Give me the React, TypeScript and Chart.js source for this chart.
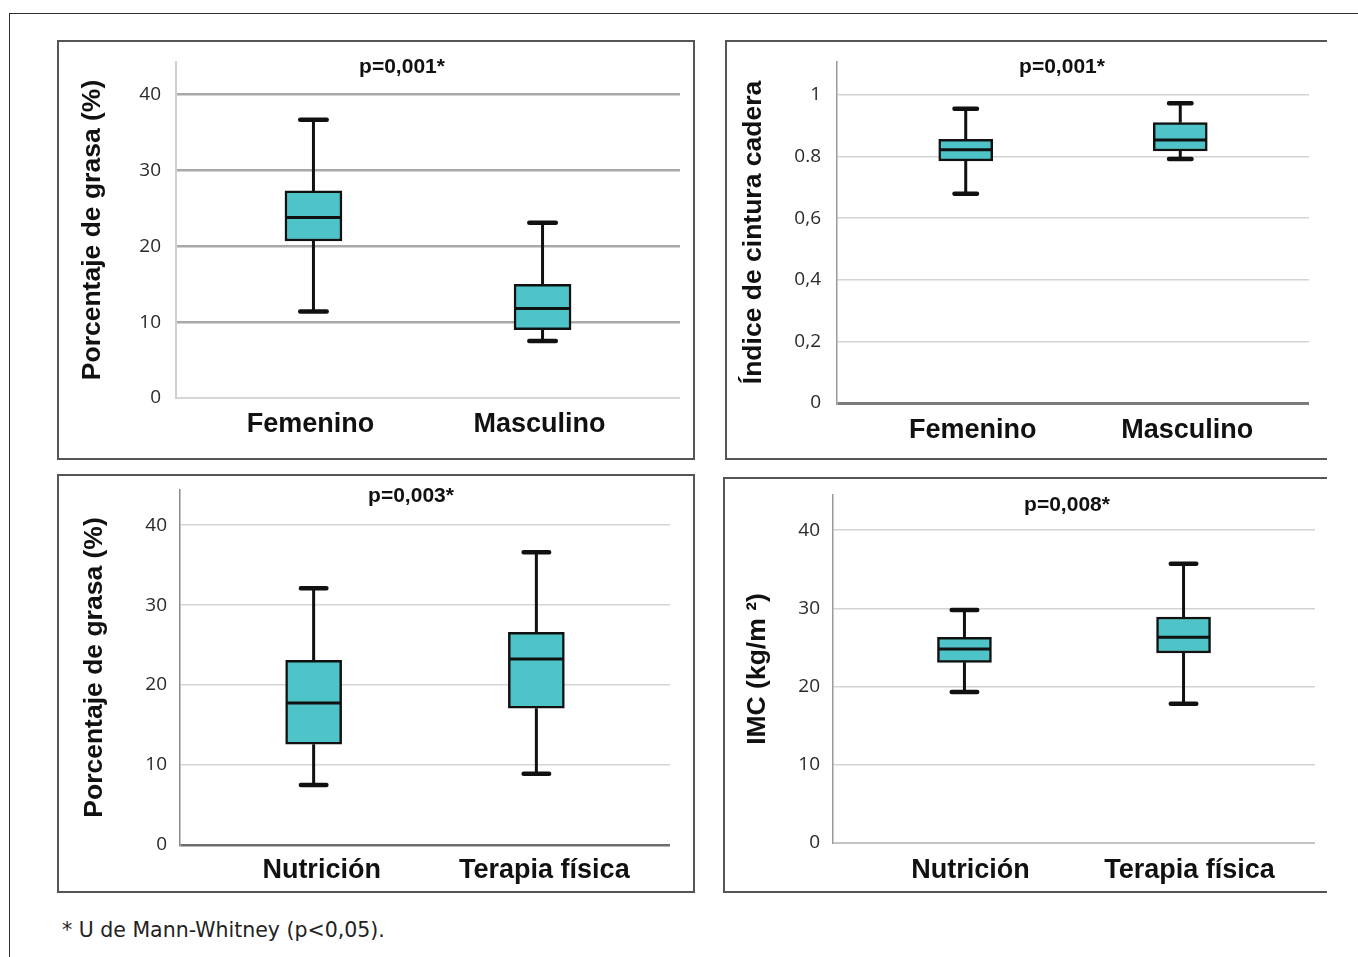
import React, { useEffect, useRef } from "react";
import { Chart, registerables } from "chart.js";

Chart.register(...registerables);

// ---------- data ----------
const sexCategories = ["Femenino", "Masculino"];
const careerCategories = ["Nutrición", "Terapia física"];

// five-number summaries per category: [min, Q1, median, Q3, max]
const fatBySex = [
  [11.4, 20.7, 23.8, 27.3, 36.7],
  [7.5, 9.0, 11.8, 15.0, 23.1],
];
const waistHipBySex = [
  [0.679, 0.786, 0.822, 0.856, 0.955],
  [0.792, 0.818, 0.854, 0.91, 0.973],
];
const fatByCareer = [
  [7.5, 12.6, 17.75, 23.1, 32.1],
  [8.9, 17.1, 23.25, 26.6, 36.6],
];
const bmiByCareer = [
  [19.3, 23.1, 24.8, 26.3, 29.8],
  [17.8, 24.3, 26.3, 28.9, 35.7],
];

const fatTicks = [0, 10, 20, 30, 40];
const fatTickLabels = ["0", "10", "20", "30", "40"];
const waistHipTicks = [0, 0.2, 0.4, 0.6, 0.8, 1];
const waistHipTickLabels = ["0", "0,2", "0,4", "0,6", "0.8", "1"];
const bmiTicks = [0, 10, 20, 30, 40];
const bmiTickLabels = ["0", "10", "20", "30", "40"];

const pValues = ["p=0,001*", "p=0,001*", "p=0,003*", "p=0,008*"];
const yTitles = ["Porcentaje de grasa (%)", "Índice de cintura cadera", "Porcentaje de grasa (%)", "IMC (kg/m ²)"];
const footnote = "* U de Mann-Whitney (p<0,05).";

// ---------- styles ----------
const BOX_FILL = "#4fc4c8";
const INK = "#111111";
const FRAME = "#555555";
const BOLD_FAMILY = "'Liberation Sans', Arial, sans-serif";

type PanelSpec = {
  left: number; top: number; width: number; height: number; rightBorder: boolean;
  categories: string[]; stats: number[][]; ticks: number[]; tickLabels: string[]; yMax: number;
  yTitle: string; pValue: string;
  yAxisWidth: number; rightPad: number; xAxisHeight: number; topPad: number;
  pX: number; pY: number; xLabelPad: number; xLabelShift: number; yTickPad: number; yTitlePad: number;
  barWidth: number; capWidth: number;
  gridColor: string; gridWidth: number; zeroColor: string; zeroWidth: number; axisColor: string; axisWidth: number;
};

const panels: PanelSpec[] = [
  {
    left: 57, top: 40, width: 638, height: 420, rightBorder: true,
    categories: sexCategories, stats: fatBySex, ticks: fatTicks, tickLabels: fatTickLabels, yMax: 44.3,
    yTitle: yTitles[0], pValue: pValues[0],
    yAxisWidth: 117, rightPad: 13, xAxisHeight: 60, topPad: 20,
    pX: 343, pY: 25, xLabelPad: 10, xLabelShift: -3, yTickPad: 15, yTitlePad: 18,
    barWidth: 57, capWidth: 31,
    gridColor: "#a9a9a9", gridWidth: 2.5, zeroColor: "#d6d6d6", zeroWidth: 2, axisColor: "#cfcfcf", axisWidth: 2,
  },
  {
    left: 725, top: 40, width: 602, height: 420, rightBorder: false,
    categories: sexCategories, stats: waistHipBySex, ticks: waistHipTicks, tickLabels: waistHipTickLabels, yMax: 1.107,
    yTitle: yTitles[1], pValue: pValues[1],
    yAxisWidth: 110, rightPad: 18, xAxisHeight: 55, topPad: 20,
    pX: 335, pY: 25, xLabelPad: 11, xLabelShift: 7, yTickPad: 16, yTitlePad: 11,
    barWidth: 54, capWidth: 27,
    gridColor: "#d3d3d3", gridWidth: 1.5, zeroColor: "#7c7c7c", zeroWidth: 3, axisColor: "#9a9a9a", axisWidth: 1.5,
  },
  {
    left: 57, top: 474, width: 638, height: 419, rightBorder: true,
    categories: careerCategories, stats: fatByCareer, ticks: fatTicks, tickLabels: fatTickLabels, yMax: 44.4,
    yTitle: yTitles[2], pValue: pValues[2],
    yAxisWidth: 121, rightPad: 23, xAxisHeight: 46, topPad: 14,
    pX: 352, pY: 20, xLabelPad: 9, xLabelShift: 8, yTickPad: 13, yTitlePad: 20,
    barWidth: 56, capWidth: 30,
    gridColor: "#d6d6d6", gridWidth: 1.5, zeroColor: "#6e6e6e", zeroWidth: 2.5, axisColor: "#8a8a8a", axisWidth: 1.5,
  },
  {
    left: 723, top: 477, width: 604, height: 416, rightBorder: false,
    categories: careerCategories, stats: bmiByCareer, ticks: bmiTicks, tickLabels: bmiTickLabels, yMax: 44.5,
    yTitle: yTitles[3], pValue: pValues[3],
    yAxisWidth: 108, rightPad: 12, xAxisHeight: 48, topPad: 16,
    pX: 342, pY: 26, xLabelPad: 11, xLabelShift: 6, yTickPad: 13, yTitlePad: 17,
    barWidth: 54, capWidth: 30,
    gridColor: "#d3d3d3", gridWidth: 1.5, zeroColor: "#c4c4c4", zeroWidth: 2, axisColor: "#9a9a9a", axisWidth: 1.5,
  },
];

const BORDER = 2;

function BoxPanel({ spec }: { spec: PanelSpec }) {
  const ref = useRef<HTMLCanvasElement | null>(null);
  const cw = spec.width - BORDER * (spec.rightBorder ? 2 : 1);
  const ch = spec.height - BORDER * 2;

  useEffect(() => {
    if (!ref.current) return;
    const boxParts = {
      id: "boxParts",
      beforeDatasetsDraw(chart: any) {
        const ctx = chart.ctx;
        const xs = chart.scales.x;
        const ys = chart.scales.y;
        ctx.save();
        ctx.strokeStyle = INK;
        spec.stats.forEach((s, i) => {
          const x = xs.getPixelForValue(i);
          const [mn, q1, , q3, mx] = s.map((v) => ys.getPixelForValue(v));
          ctx.lineWidth = 3;
          ctx.lineCap = "butt";
          ctx.beginPath();
          ctx.moveTo(x, mx);
          ctx.lineTo(x, q3);
          ctx.moveTo(x, q1);
          ctx.lineTo(x, mn);
          ctx.stroke();
          ctx.lineWidth = 4.5;
          ctx.lineCap = "round";
          const hw = (spec.capWidth - 4.5) / 2;
          ctx.beginPath();
          ctx.moveTo(x - hw, mx);
          ctx.lineTo(x + hw, mx);
          ctx.moveTo(x - hw, mn);
          ctx.lineTo(x + hw, mn);
          ctx.stroke();
        });
        ctx.restore();
      },
      afterDatasetsDraw(chart: any) {
        const ctx = chart.ctx;
        const xs = chart.scales.x;
        const ys = chart.scales.y;
        const meta = chart.getDatasetMeta(0);
        ctx.save();
        ctx.strokeStyle = INK;
        ctx.lineWidth = 3;
        spec.stats.forEach((s, i) => {
          const x = xs.getPixelForValue(i);
          const y = ys.getPixelForValue(s[2]);
          const w = meta.data[i] ? meta.data[i].width : spec.barWidth;
          ctx.beginPath();
          ctx.moveTo(x - w / 2 + 1, y);
          ctx.lineTo(x + w / 2 - 1, y);
          ctx.stroke();
        });
        ctx.restore();
      },
      afterDraw(chart: any) {
        const ctx = chart.ctx;
        ctx.save();
        ctx.fillStyle = INK;
        ctx.font = `bold 21px ${BOLD_FAMILY}`;
        ctx.textAlign = "center";
        ctx.textBaseline = "middle";
        ctx.fillText(spec.pValue, spec.pX, spec.pY);
        ctx.restore();
      },
    };

    const chart = new Chart(ref.current, {
      type: "bar",
      data: {
        datasets: [
          {
            data: spec.stats.map((s, i) => ({ x: i, y: [s[1], s[3]] })) as any,
            backgroundColor: BOX_FILL,
            borderColor: INK,
            borderWidth: 2.5,
            borderSkipped: false,
            barThickness: spec.barWidth,
          },
        ],
      },
      options: {
        animation: false,
        responsive: false,
        events: [],
        layout: { padding: { left: 0, right: spec.rightPad, top: spec.topPad, bottom: 0 } },
        plugins: {
          legend: { display: false },
          tooltip: { enabled: false },
          title: { display: false },
        },
        scales: {
          x: {
            type: "linear",
            min: -0.6,
            max: 1.6,
            offset: false,
            grid: { display: false, drawTicks: false },
            border: { display: false },
            afterBuildTicks: (scale: any) => {
              scale.ticks = spec.categories.map((_, i) => ({ value: i }));
            },
            afterFit: (scale: any) => {
              scale.height = spec.xAxisHeight;
              scale.paddingLeft = 0;
              scale.paddingRight = 0;
            },
            ticks: {
              autoSkip: false,
              maxRotation: 0,
              padding: spec.xLabelPad,
              labelOffset: spec.xLabelShift,
              color: INK,
              font: { family: BOLD_FAMILY, size: 27, weight: "bold", lineHeight: 1.2 },
              callback: (v: any) => spec.categories[Number(v)] ?? "",
            },
          },
          y: {
            type: "linear",
            min: 0,
            max: spec.yMax,
            afterBuildTicks: (scale: any) => {
              scale.ticks = spec.ticks.map((v) => ({ value: v }));
            },
            afterFit: (scale: any) => {
              scale.width = spec.yAxisWidth;
              scale.paddingTop = 0;
              scale.paddingBottom = 0;
            },
            grid: {
              drawTicks: false,
              color: (ctx: any) => (ctx.tick && ctx.tick.value === 0 ? spec.zeroColor : spec.gridColor),
              lineWidth: (ctx: any) => (ctx.tick && ctx.tick.value === 0 ? spec.zeroWidth : spec.gridWidth),
            },
            border: { display: true, color: spec.axisColor, width: spec.axisWidth },
            ticks: {
              autoSkip: false,
              padding: spec.yTickPad,
              color: "#2a2a2a",
              font: { family: "'Open Sans', sans-serif", size: 19 },
              callback: (_v: any, index: number) => spec.tickLabels[index] ?? "",
            },
            title: {
              display: true,
              text: spec.yTitle,
              color: INK,
              padding: { top: spec.yTitlePad, bottom: 0 },
              font: { family: BOLD_FAMILY, size: 26.5, weight: "bold", lineHeight: 1.2 },
            },
          },
        },
      },
      plugins: [boxParts],
    } as any);
    return () => chart.destroy();
  }, [spec]);

  return (
    <div
      style={{
        position: "absolute",
        left: spec.left,
        top: spec.top,
        width: spec.width,
        height: spec.height,
        boxSizing: "border-box",
        borderTop: `${BORDER}px solid ${FRAME}`,
        borderBottom: `${BORDER}px solid ${FRAME}`,
        borderLeft: `${BORDER}px solid ${FRAME}`,
        borderRight: spec.rightBorder ? `${BORDER}px solid ${FRAME}` : "none",
        background: "#fff",
      }}
    >
      <canvas ref={ref} width={cw} height={ch} style={{ display: "block", width: cw, height: ch }} />
    </div>
  );
}

export default function App() {
  return (
    <div
      style={{
        position: "absolute",
        left: 0,
        top: 0,
        width: 1358,
        height: 957,
        overflow: "hidden",
        background: "#fff",
      }}
    >
      <div
        style={{
          position: "absolute",
          left: 9,
          top: 13,
          width: 1400,
          height: 1000,
          borderTop: "1.5px solid #2e2e2e",
          borderLeft: "1.5px solid #2e2e2e",
        }}
      />
      {panels.map((p, i) => (
        <BoxPanel key={i} spec={p} />
      ))}
      <div
        style={{
          position: "absolute",
          left: 62,
          top: 918,
          fontFamily: "'DejaVu Sans', Verdana, sans-serif",
          fontSize: 20.5,
          lineHeight: "24px",
          color: "#222",
          whiteSpace: "nowrap",
        }}
      >
        {footnote}
      </div>
    </div>
  );
}
